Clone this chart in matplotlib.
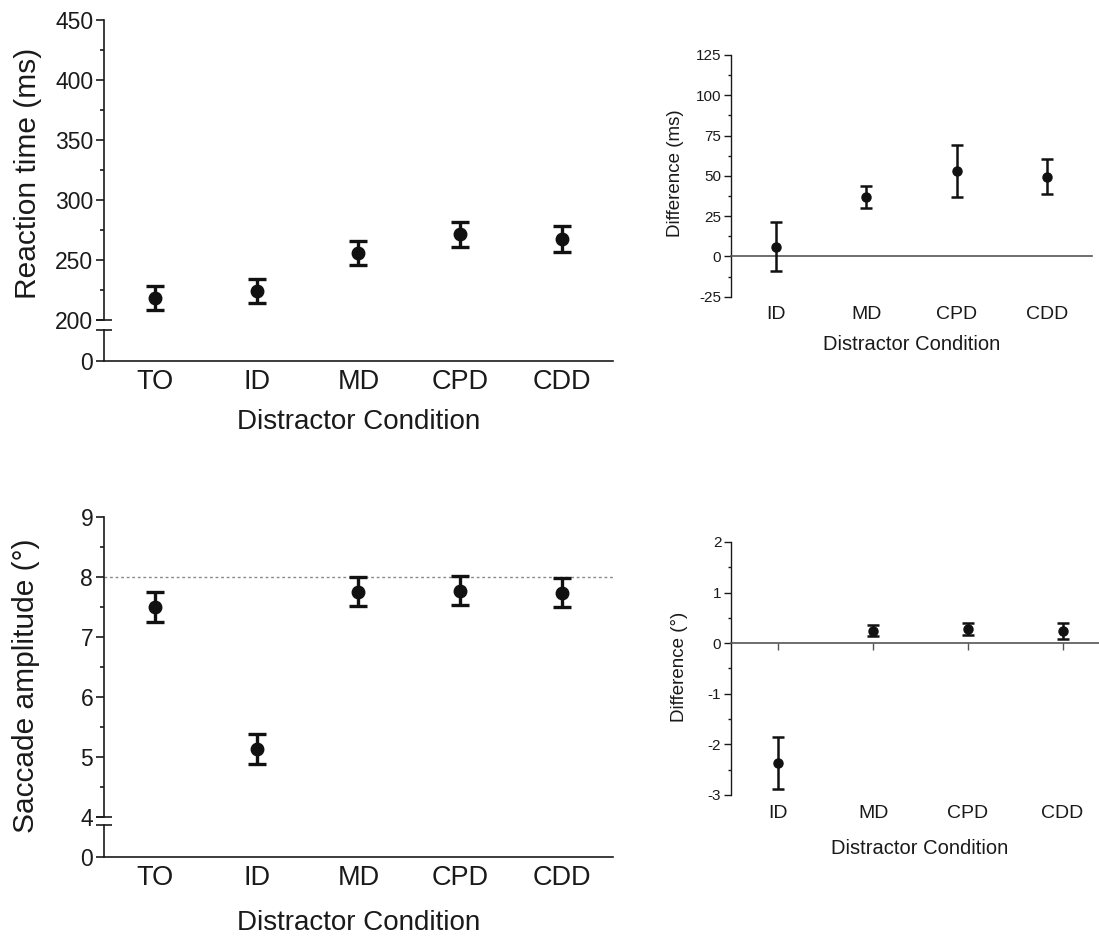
import matplotlib
matplotlib.use('Agg')
import matplotlib.pyplot as plt

plt.rcParams['font.family'] = ['Liberation Sans', 'DejaVu Sans']
plt.rcParams['axes.unicode_minus'] = False

# ---------------- data ----------------
conds5 = ['TO', 'ID', 'MD', 'CPD', 'CDD']
conds4 = ['ID', 'MD', 'CPD', 'CDD']

rt_mean = [218.5, 224.0, 255.5, 271.5, 267.5]
rt_err = [10.0, 10.0, 10.0, 10.5, 10.5]

rt_diff_mean = [6.0, 37.0, 53.0, 49.5]
rt_diff_err = [15.3, 6.8, 16.0, 11.0]

amp_mean = [7.50, 5.13, 7.75, 7.77, 7.73]
amp_err = [0.25, 0.25, 0.24, 0.24, 0.24]

amp_diff_mean = [-2.37, 0.25, 0.28, 0.24]
amp_diff_err = [0.52, 0.11, 0.12, 0.16]

target_amp = 8.0

rt_major = [200, 250, 300, 350, 400, 450]
rt_minor = [225, 275, 325, 375, 425]
amp_major = [4, 5, 6, 7, 8, 9]
amp_minor = [4.5, 5.5, 6.5, 7.5, 8.5]
rtd_major = [-25, 0, 25, 50, 75, 100, 125]
rtd_minor = [-12.5, 12.5, 37.5, 62.5, 87.5, 112.5]
ampd_major = [-3, -2, -1, 0, 1, 2]
ampd_minor = [-2.5, -1.5, -0.5, 0.5, 1.5]

# ---------------- figure ----------------
W, H = 1099, 940
fig = plt.figure(figsize=(W / 100, H / 100), dpi=100)
INK = '#1a1a1a'
ZERO = '#555555'


def rect(l, r, t, b):
    return [l / W, 1 - b / H, (r - l) / W, (b - t) / H]


def fxy(x, y):
    return (x / W, 1 - y / H)


def broken_panel(x0, x1, up_t, up_b, lo_t, lo_b, ylim, major, minor,
                 means, errs, ylabel, ylab_xy, xlab_xy, refline=None):
    axu = fig.add_axes(rect(x0, x1, up_t, up_b))
    axl = fig.add_axes(rect(x0, x1, lo_t, lo_b))
    xs = list(range(len(conds5)))
    for ax in (axu, axl):
        ax.set_xlim(-0.5, len(conds5) - 0.5)
        ax.spines['top'].set_visible(False)
        ax.spines['right'].set_visible(False)
        for s in ax.spines.values():
            s.set_linewidth(1.2)
            s.set_color(INK)
    axu.spines['bottom'].set_visible(False)
    axu.set_ylim(*ylim)
    axu.set_yticks(major)
    axu.set_yticks(minor, minor=True)
    axu.tick_params(axis='y', which='major', length=6, width=1.2, pad=2,
                    labelsize=16.5, colors=INK)
    axu.tick_params(axis='y', which='minor', length=3, width=1.2, colors=INK)
    axu.tick_params(axis='x', bottom=False, labelbottom=False)
    if refline is not None:
        axu.axhline(refline, color='#8a8a8a', lw=1.0, ls=(0, (2, 2)), zorder=1)
    axu.errorbar(xs, means, yerr=errs, fmt='o', color='#111111', ms=9,
                 capsize=6.8, elinewidth=2.4, capthick=2.4, zorder=3)
    axu.set_ylabel(ylabel, fontsize=21.5, color=INK)
    axu.yaxis.set_label_coords(*fxy(*ylab_xy), transform=fig.transFigure)
    axu.yaxis.label.set_va('center')

    axl.set_ylim(0, 1)
    axl.set_yticks([0])
    axl.tick_params(axis='y', length=6, width=1.2, pad=2, labelsize=16.5, colors=INK)
    axl.set_xticks(xs)
    axl.set_xticklabels(conds5)
    axl.tick_params(axis='x', length=0, pad=6, labelsize=19.5, colors=INK)
    axl.set_xlabel('Distractor Condition', fontsize=20, color=INK)
    axl.xaxis.set_label_coords(*fxy(*xlab_xy), transform=fig.transFigure)
    axl.xaxis.label.set_va('center')

    # axis break marks
    for ax, yy in ((axu, 0), (axl, 1)):
        ax.plot([0], [yy], marker='_', ms=11, mew=1.2, color=INK,
                transform=ax.transAxes, clip_on=False)
    return axu, axl


def diff_panel(x0, x1, t, b, ylim, major, minor, means, errs, ylabel,
               ylab_xy, xlab_xy, zero_ticks=False):
    ax = fig.add_axes(rect(x0, x1, t, b))
    xs = list(range(len(conds4)))
    ax.set_xlim(-0.5, len(conds4) - 0.5)
    ax.set_ylim(*ylim)
    for s in ('top', 'right'):
        ax.spines[s].set_visible(False)
    ax.spines['left'].set_linewidth(1.0)
    ax.spines['left'].set_color(INK)
    # zero line drawn as the bottom spine placed at y = 0
    ax.spines['bottom'].set_position(('data', 0))
    ax.spines['bottom'].set_color(ZERO)
    ax.spines['bottom'].set_linewidth(1.2)
    ax.set_yticks(major)
    ax.set_yticks(minor, minor=True)
    ax.tick_params(axis='y', which='major', length=5, width=1.0, pad=2,
                   labelsize=11, colors=INK)
    ax.tick_params(axis='y', which='minor', length=2.5, width=1.0, colors=INK)
    ax.set_xticks(xs)
    ax.tick_params(axis='x', labelbottom=False, length=5 if zero_ticks else 0,
                   width=1.0, color=ZERO)
    # category labels at the bottom of the axes
    sec = ax.secondary_xaxis('bottom')
    sec.set_xticks(xs)
    sec.set_xticklabels(conds4)
    sec.spines['bottom'].set_visible(False)
    sec.tick_params(axis='x', length=0, pad=7, labelsize=14, colors=INK)

    ax.errorbar(xs, means, yerr=errs, fmt='o', color='#111111', ms=6.5,
                capsize=4, elinewidth=1.8, capthick=1.8, zorder=3)
    ax.set_ylabel(ylabel, fontsize=13.5, color=INK)
    ax.yaxis.set_label_coords(*fxy(*ylab_xy), transform=fig.transFigure)
    ax.yaxis.label.set_va('center')
    ax.set_xlabel('Distractor Condition', fontsize=14.5, color=INK)
    ax.xaxis.set_label_coords(*fxy(*xlab_xy), transform=fig.transFigure)
    ax.xaxis.label.set_va('center')
    return ax


# Top-left: reaction time
broken_panel(104.3, 612.6, 20, 320, 329.5, 361, (200, 450), rt_major, rt_minor,
             rt_mean, rt_err, 'Reaction time (ms)', (28, 173), (359, 421.7))

# Bottom-left: saccade amplitude
broken_panel(104.3, 612.6, 516.7, 816.7, 825, 857, (4, 9), amp_major, amp_minor,
             amp_mean, amp_err, 'Saccade amplitude (°)', (26, 686), (359, 923),
             refline=target_amp)

# Top-right: RT difference
diff_panel(730.7, 1092, 55, 296.7, (-25, 125), rtd_major, rtd_minor,
           rt_diff_mean, rt_diff_err, 'Difference (ms)', (675, 173), (912, 345))

# Bottom-right: amplitude difference
diff_panel(731, 1110, 542, 795, (-3, 2), ampd_major, ampd_minor,
           amp_diff_mean, amp_diff_err, 'Difference (°)', (680, 667), (920, 848),
           zero_ticks=True)

fig.savefig('out.png', dpi=100)
